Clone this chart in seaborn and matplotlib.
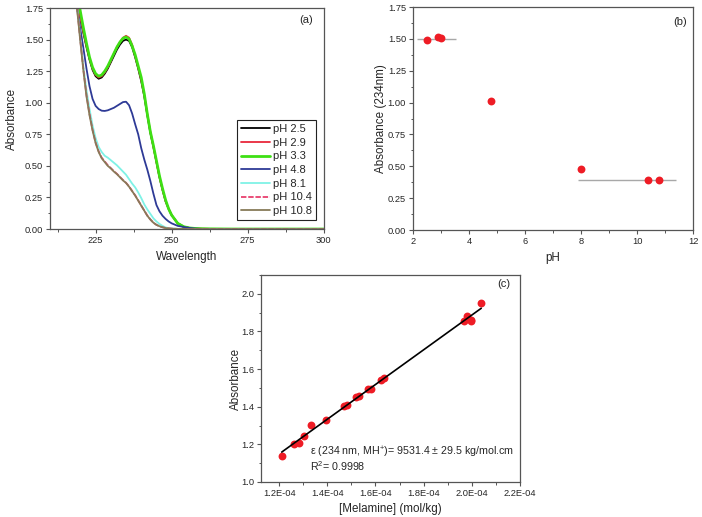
import matplotlib
matplotlib.use("Agg")
import matplotlib.pyplot as plt
import matplotlib.ticker as mticker
import seaborn as sns
import pandas as pd
import numpy as np

# ---- panel (a): UV spectra at different pH ----
wavelength = [218, 219, 220, 221, 222, 223, 224, 225, 226, 227, 228, 229, 230, 231, 232, 233,
              234, 235, 236, 237, 238, 239, 240, 241, 242, 243, 244, 245, 246, 247, 248, 249,
              250, 252, 254, 256, 258, 260, 265, 270, 280, 290, 300]
ph_labels = ['pH 2.5', 'pH 2.9', 'pH 3.3', 'pH 4.8', 'pH 8.1', 'pH 10.4', 'pH 10.8']

abs_ph25 = [2.10, 1.76, 1.66, 1.55, 1.44, 1.34, 1.26, 1.21, 1.19, 1.20, 1.23, 1.27, 1.32, 1.37, 1.42, 1.46,
            1.49, 1.50, 1.49, 1.44, 1.36, 1.27, 1.17, 1.05, 0.90, 0.76, 0.65, 0.53, 0.41, 0.31, 0.22, 0.16,
            0.11, 0.045, 0.018, 0.007, 0.003, 0.002, 0.0, 0.0, 0.0, 0.0, 0.0]
abs_ph29 = [2.10, 1.77, 1.67, 1.56, 1.45, 1.35, 1.27, 1.22, 1.20, 1.21, 1.24, 1.28, 1.33, 1.39, 1.44, 1.48,
            1.515, 1.53, 1.515, 1.46, 1.37, 1.28, 1.18, 1.06, 0.91, 0.77, 0.65, 0.53, 0.41, 0.31, 0.22, 0.16,
            0.11, 0.045, 0.018, 0.007, 0.003, 0.002, 0.0, 0.0, 0.0, 0.0, 0.0]
abs_ph33 = [2.20, 1.86, 1.72, 1.59, 1.47, 1.36, 1.28, 1.23, 1.21, 1.22, 1.25, 1.29, 1.34, 1.39, 1.44, 1.48,
            1.51, 1.52, 1.505, 1.45, 1.38, 1.29, 1.20, 1.07, 0.91, 0.77, 0.66, 0.54, 0.42, 0.32, 0.23, 0.16,
            0.11, 0.045, 0.018, 0.008, 0.004, 0.002, 0.001, 0.0, 0.0, 0.0, 0.0]
abs_ph48 = [2.10, 1.73, 1.58, 1.43, 1.27, 1.13, 1.03, 0.975, 0.95, 0.937, 0.935, 0.94, 0.95, 0.96, 0.975, 0.99,
            1.005, 1.008, 0.98, 0.915, 0.83, 0.75, 0.64, 0.55, 0.47, 0.38, 0.28, 0.19, 0.14, 0.105, 0.08, 0.06,
            0.045, 0.025, 0.016, 0.008, 0.003, 0.0, 0.0, 0.0, 0.0, 0.0, 0.0]
abs_ph81 = [2.10, 1.75, 1.50, 1.28, 1.10, 0.95, 0.82, 0.72, 0.65, 0.61, 0.58, 0.565, 0.545, 0.525, 0.505, 0.48,
            0.455, 0.43, 0.395, 0.36, 0.33, 0.29, 0.245, 0.195, 0.155, 0.12, 0.085, 0.06, 0.04, 0.025, 0.013, 0.007,
            0.004, 0.002, 0.0, 0.0, 0.0, 0.0, 0.0, 0.0, 0.0, 0.0, 0.0]
abs_ph104 = [2.10, 1.73, 1.49, 1.26, 1.06, 0.91, 0.785, 0.685, 0.615, 0.565, 0.535, 0.505, 0.482, 0.458, 0.437, 0.412,
             0.388, 0.366, 0.337, 0.302, 0.267, 0.227, 0.186, 0.146, 0.106, 0.076, 0.05, 0.033, 0.022, 0.014, 0.008, 0.005,
             0.003, 0.001, 0.0, 0.0, 0.0, 0.0, 0.0, 0.0, 0.0, 0.0, 0.0]
abs_ph108 = [2.10, 1.72, 1.48, 1.25, 1.05, 0.90, 0.78, 0.68, 0.61, 0.56, 0.53, 0.50, 0.48, 0.455, 0.435, 0.41,
             0.385, 0.365, 0.335, 0.30, 0.265, 0.225, 0.185, 0.145, 0.105, 0.075, 0.05, 0.033, 0.022, 0.014, 0.008, 0.005,
             0.003, 0.001, 0.0, 0.0, 0.0, 0.0, 0.0, 0.0, 0.0, 0.0, 0.0]
spectra = [abs_ph25, abs_ph29, abs_ph33, abs_ph48, abs_ph81, abs_ph104, abs_ph108]
line_colors = ['#000000', '#e8283c', '#3ee014', '#2e3a96', '#7ff2e6', '#e8406e', '#877b58']

# ---- panel (b): absorbance at 234 nm vs pH ----
ph_values = [2.5, 2.9, 3.0, 4.8, 8.0, 10.4, 10.8]
abs_234 = [1.49, 1.515, 1.51, 1.01, 0.475, 0.393, 0.393]
plateau_level = [1.50, 0.395]
plateau_start = [2.15, 7.9]
plateau_end = [3.55, 11.4]

# ---- panel (c): calibration line ----
melamine = [1.211e-4, 1.263e-4, 1.284e-4, 1.302e-4, 1.334e-4, 1.394e-4, 1.470e-4, 1.482e-4, 1.521e-4, 1.530e-4,
            1.569e-4, 1.581e-4, 1.624e-4, 1.637e-4, 1.966e-4, 1.978e-4, 1.996e-4, 1.998e-4, 2.039e-4]
abs_melamine = [1.140, 1.202, 1.209, 1.246, 1.303, 1.328, 1.406, 1.408, 1.454, 1.457,
                1.493, 1.496, 1.541, 1.551, 1.858, 1.883, 1.860, 1.853, 1.950]

sns.set_style("ticks")
plt.rcParams['font.family'] = ['Liberation Sans', 'DejaVu Sans']
plt.rcParams['mathtext.default'] = 'regular'

red = '#ee1c25'
spine_col = '#555555'
tick_size = 6.7
label_size = 8.4

fig = plt.figure(figsize=(7.02, 5.17), dpi=100)
ax_a = fig.add_axes([0.0712, 0.557, 0.390, 0.4275])
ax_b = fig.add_axes([0.5883, 0.5551, 0.3989, 0.4313])
ax_c = fig.add_axes([0.3718, 0.0677, 0.369, 0.4004])

# (a)
for lab, vals, col in zip(ph_labels, spectra, line_colors):
    lw = 2.0 if lab == 'pH 3.3' else 1.3
    ls = (0, (3, 1)) if lab == 'pH 10.4' else '-'
    sns.lineplot(x=wavelength, y=vals, color=col, lw=lw, ls=ls, label=lab, ax=ax_a)
ax_a.set_xlim(210, 300)
ax_a.set_ylim(0, 1.75)
ax_a.xaxis.set_major_locator(mticker.MultipleLocator(25))
ax_a.xaxis.set_minor_locator(mticker.MultipleLocator(12.5))
ax_a.yaxis.set_major_locator(mticker.MultipleLocator(0.25))
ax_a.yaxis.set_minor_locator(mticker.MultipleLocator(0.125))
ax_a.yaxis.set_major_formatter(mticker.FormatStrFormatter('%.2f'))
ax_a.set_xlabel('Wavelength', fontsize=label_size)
ax_a.set_ylabel('Absorbance', fontsize=label_size, labelpad=5)
ax_a.text(0.96, 0.946, '(a)', transform=ax_a.transAxes, ha='right', va='center', fontsize=8)
leg = ax_a.legend(loc='lower right', bbox_to_anchor=(0.971, 0.041), fontsize=8, frameon=True,
                  fancybox=False, edgecolor='#222222', framealpha=1, handlelength=2.6,
                  handletextpad=0.3, labelspacing=0.33, borderpad=0.35, borderaxespad=0)
leg.get_frame().set_linewidth(0.8)

# (b)
sns.scatterplot(x=ph_values, y=abs_234, color=red, s=32, linewidth=0, ax=ax_b, zorder=3)
ax_b.hlines(plateau_level, plateau_start, plateau_end, color='#a8a8a8', lw=1.0, zorder=2)
ax_b.set_xlim(2, 12)
ax_b.set_ylim(0, 1.75)
ax_b.xaxis.set_major_locator(mticker.MultipleLocator(2))
ax_b.xaxis.set_minor_locator(mticker.MultipleLocator(1))
ax_b.yaxis.set_major_locator(mticker.MultipleLocator(0.25))
ax_b.yaxis.set_minor_locator(mticker.MultipleLocator(0.125))
ax_b.yaxis.set_major_formatter(mticker.FormatStrFormatter('%.2f'))
ax_b.set_xlabel('pH', fontsize=label_size)
ax_b.set_ylabel('Absorbance (234nm)', fontsize=label_size, labelpad=0.5)
ax_b.text(0.979, 0.933, '(b)', transform=ax_b.transAxes, ha='right', va='center', fontsize=8)

# (c)
sns.regplot(x=melamine, y=abs_melamine, ci=None, ax=ax_c,
            scatter_kws=dict(color=red, s=32, linewidths=0, alpha=1),
            line_kws=dict(color='black', lw=1.2))
ax_c.set_xlim(1.125e-4, 2.2e-4)
ax_c.set_ylim(1.0, 2.1)
ax_c.xaxis.set_major_locator(mticker.MultipleLocator(0.2e-4))
ax_c.xaxis.set_minor_locator(mticker.MultipleLocator(0.1e-4))
ax_c.xaxis.set_major_formatter(mticker.FuncFormatter(lambda v, p: f'{v:.1E}'))
ax_c.yaxis.set_major_locator(mticker.MultipleLocator(0.2))
ax_c.yaxis.set_minor_locator(mticker.MultipleLocator(0.1))
ax_c.yaxis.set_major_formatter(mticker.FormatStrFormatter('%.1f'))
ax_c.set_xlabel('[Melamine] (mol/kg)', fontsize=label_size, labelpad=4)
ax_c.set_ylabel('Absorbance', fontsize=label_size, labelpad=-0.5)
ax_c.text(0.961, 0.957, '(c)', transform=ax_c.transAxes, ha='right', va='center', fontsize=8)
ax_c.text(0.19, 0.145, 'ε (234 nm, MH$^{+}$)= 9531.4 ± 29.5 kg/mol.cm', transform=ax_c.transAxes,
          fontsize=7.7, va='center')
ax_c.text(0.19, 0.075, 'R$^{2}$= 0.9998', transform=ax_c.transAxes, fontsize=7.7, va='center')

for ax in (ax_a, ax_b, ax_c):
    for sp in ax.spines.values():
        sp.set_visible(True)
        sp.set_color(spine_col)
        sp.set_linewidth(0.9)
    ax.tick_params(which='major', direction='out', length=3, width=0.8, color=spine_col,
                   labelsize=tick_size, pad=2, top=False, right=False)
    ax.tick_params(which='minor', direction='out', length=1.8, width=0.7, color=spine_col,
                   top=False, right=False)
    ax.xaxis.labelpad = 4

fig.savefig('out.png', dpi=100)
